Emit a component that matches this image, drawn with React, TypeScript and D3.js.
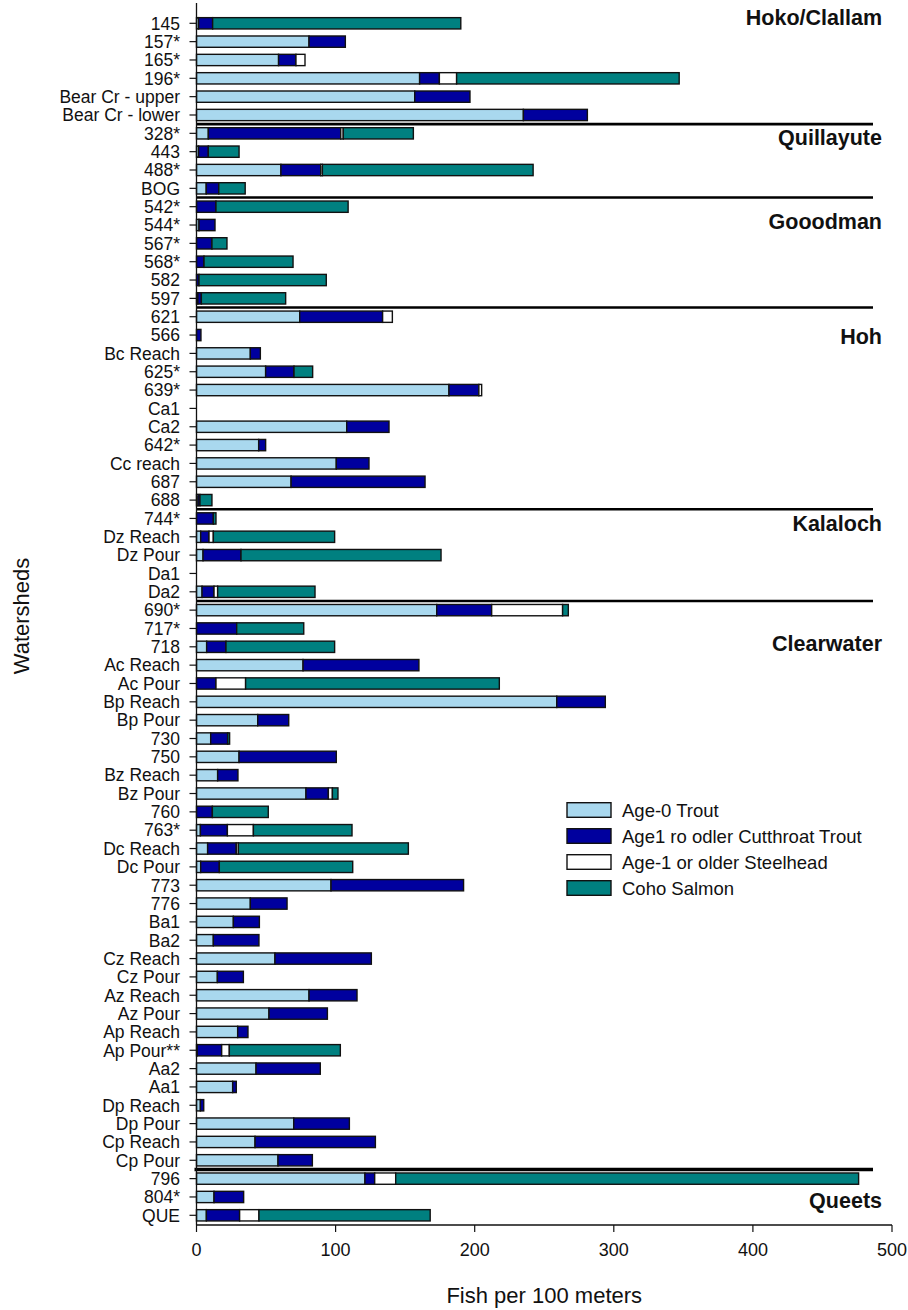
import React from "react";
import * as d3 from "d3";

// Sampling sites, top to bottom
const sites = [
  "145", "157*", "165*", "196*", "Bear Cr - upper", "Bear Cr - lower",
  "328*", "443", "488*", "BOG",
  "542*", "544*", "567*", "568*", "582", "597",
  "621", "566", "Bc Reach", "625*", "639*", "Ca1", "Ca2", "642*", "Cc reach", "687", "688",
  "744*", "Dz Reach", "Dz Pour", "Da1", "Da2",
  "690*", "717*", "718", "Ac Reach", "Ac Pour", "Bp Reach", "Bp Pour", "730", "750",
  "Bz Reach", "Bz Pour", "760", "763*", "Dc Reach", "Dc Pour", "773", "776", "Ba1", "Ba2",
  "Cz Reach", "Cz Pour", "Az Reach", "Az Pour", "Ap Reach", "Ap Pour**", "Aa2", "Aa1",
  "Dp Reach", "Dp Pour", "Cp Reach", "Cp Pour",
  "796", "804*", "QUE",
];

// Fish per 100 meters, one value per site
const age0Trout = [
  1.5, 80.9, 59, 160.4, 156.9, 235,
  8.5, 1.5, 60.7, 7,
  0, 1.8, 0, 0, 0, 1,
  74.2, 0, 38.7, 49.7, 181.5, 0, 108, 44.7, 100.5, 68, 1.1,
  0, 3, 4.7, 0, 4,
  172.7, 0, 7.3, 76.6, 0, 259, 44, 10.2, 30.6,
  15.2, 78.7, 0, 2.8, 8, 3, 96.7, 38.7, 26.5, 12.1,
  56.4, 15, 80.9, 52.1, 29.6, 0.5, 42.8, 26,
  2.8, 69.9, 42.1, 58.6,
  121.1, 12.6, 7.1,
];

const cutthroat = [
  10.1, 26.1, 12.5, 14.2, 39.7, 46,
  95.2, 7, 28.6, 9,
  14, 11.5, 11.1, 5.4, 1.8, 2.5,
  59.6, 3.2, 7.2, 20.4, 21.5, 0, 30.4, 5, 23.5, 96.3, 1.4,
  12.1, 6, 27.3, 0, 8.6,
  39.5, 28.9, 13.9, 83.3, 14, 34.9, 22.3, 12.2, 69.9,
  14.6, 16.1, 11.4, 19.4, 20.6, 13.4, 95.3, 26.4, 18.7, 32.8,
  69.3, 18.7, 34.5, 42, 7.4, 17.6, 46.2, 2.6,
  2.4, 40, 86.5, 24.7,
  7, 21.3, 23.9,
];

const steelhead = [
  0, 0, 6.5, 12.4, 0, 0,
  1.8, 0, 1.2, 0,
  0, 0, 0, 0, 0, 0,
  7, 0, 0, 0, 2, 0, 0, 0, 0, 0, 0,
  0, 3.1, 0, 0, 2.6,
  51, 0, 0, 0, 21.3, 0, 0, 0, 0,
  0, 2.9, 0, 18.7, 1.5, 0, 0, 0, 0, 0,
  0, 0, 0, 0, 0, 5.5, 0, 0,
  0, 0, 0, 0,
  15.1, 0, 13.9,
];

const cohoSalmon = [
  178.4, 0, 0, 160, 0, 0,
  50.4, 22.1, 151.5, 19,
  95, 0, 10.8, 64, 91.5, 60.6,
  0, 0, 0, 13.4, 0, 0, 0, 0, 0, 0, 8.6,
  1.9, 87.2, 143.8, 0, 70,
  4.1, 48.2, 78.1, 0, 182.4, 0, 0, 1.4, 0,
  0, 4, 40.2, 70.9, 122.2, 95.9, 0, 0, 0, 0,
  0, 0, 0, 0, 0, 79.8, 0, 0,
  0, 0, 0, 0,
  332.8, 0, 123.1,
];

// Watersheds and the first site of each
const watersheds = ["Hoko/Clallam", "Quillayute", "Gooodman", "Hoh", "Kalaloch", "Clearwater", "Queets"];
const watershedFirstSite = ["145", "328*", "542*", "621", "744*", "690*", "796"];

const seriesNames = [
  "Age-0 Trout",
  "Age1 ro odler Cutthroat Trout",
  "Age-1 or older Steelhead",
  "Coho Salmon",
];

const xTicks = [0, 100, 200, 300, 400, 500];

// Drawing settings
const W = 908;
const H = 1310;
const colors = ["#a9d8ee", "#00009e", "#ffffff", "#008080"];
const labelShift = [-0.3, 0.2, 0.8, 1.1, 0.3, 1.8, 1.2];
const FONT = "Arial, 'Liberation Sans', Helvetica, sans-serif";

export default function App() {
  const keys = ["a0", "ct", "sh", "co"];
  const rows = sites.map((s, i) => ({
    site: s,
    a0: age0Trout[i],
    ct: cutthroat[i],
    sh: steelhead[i],
    co: cohoSalmon[i],
  }));
  const stacked = d3.stack<any>().keys(keys)(rows);

  const x = d3.scaleLinear().domain([0, 500]).range([196.5, 892]);
  const y = d3.scalePoint<string>().domain(sites).range([23.3, 1215.3]);
  const step = y.step();
  const barH = 11.3;
  const axisY = 1225;
  const x0 = x(0);

  return (
    <svg
      width={W}
      height={H}
      style={{ position: "absolute", left: 0, top: 0, background: "#fff" }}
      fontFamily={FONT}
    >
      {/* bars */}
      {stacked.map((layer, k) => (
        <g key={keys[k]} fill={colors[k]} stroke="#111" strokeWidth={1.4}>
          {layer.map((d, i) =>
            d[1] - d[0] > 0 ? (
              <rect
                key={i}
                x={x(d[0])}
                y={(y(sites[i]) as number) - barH / 2}
                width={x(d[1]) - x(d[0])}
                height={barH}
              />
            ) : null
          )}
        </g>
      ))}

      {/* watershed separators and names */}
      {watersheds.map((name, gi) => {
        const first = watershedFirstSite[gi];
        const cy = y(first) as number;
        const labelY = cy + labelShift[gi] * step;
        return (
          <g key={name}>
            {gi > 0 && (
              <line
                x1={x0 - (gi === 6 ? 2 : 0)}
                x2={873}
                y1={cy - step / 2}
                y2={cy - step / 2}
                stroke="#000"
                strokeWidth={gi === 6 ? 3.5 : 2.6}
              />
            )}
            <text
              x={882}
              y={labelY}
              dy="0.35em"
              textAnchor="end"
              fontWeight="bold"
              fontSize={21.5}
              fill="#111"
            >
              {name}
            </text>
          </g>
        );
      })}

      {/* y axis */}
      <line x1={x0} x2={x0} y1={3} y2={axisY} stroke="#111" strokeWidth={1.3} />
      {sites.map((s) => (
        <g key={s}>
          <line
            x1={x0 - 7}
            x2={x0}
            y1={y(s) as number}
            y2={y(s) as number}
            stroke="#111"
            strokeWidth={1.2}
          />
          <text
            x={180}
            y={y(s) as number}
            dy="0.36em"
            textAnchor="end"
            fontSize={17.5}
            fill="#111"
          >
            {s}
          </text>
        </g>
      ))}

      {/* x axis */}
      <line x1={x0} x2={x(500)} y1={axisY} y2={axisY} stroke="#111" strokeWidth={1.3} />
      {xTicks.map((t) => (
        <g key={t}>
          <line x1={x(t)} x2={x(t)} y1={axisY} y2={axisY + 7} stroke="#111" strokeWidth={1.2} />
          <text x={x(t)} y={1256} textAnchor="middle" fontSize={18} fill="#111">
            {t}
          </text>
        </g>
      ))}

      {/* axis titles */}
      <text x={(x0 + x(500)) / 2} y={1303} textAnchor="middle" fontSize={22} fill="#111">
        Fish per 100 meters
      </text>
      <text
        transform={`translate(29, 616) rotate(-90)`}
        textAnchor="middle"
        fontSize={22}
        fill="#111"
      >
        Watersheds
      </text>

      {/* legend */}
      {seriesNames.map((n, k) => (
        <g key={n} transform={`translate(567, ${810 + k * 26})`}>
          <rect x={0} y={-7.3} width={44} height={14.6} fill={colors[k]} stroke="#111" strokeWidth={1.4} />
          <text x={55} y={0} dy="0.36em" fontSize={18.5} fill="#111">
            {n}
          </text>
        </g>
      ))}
    </svg>
  );
}
